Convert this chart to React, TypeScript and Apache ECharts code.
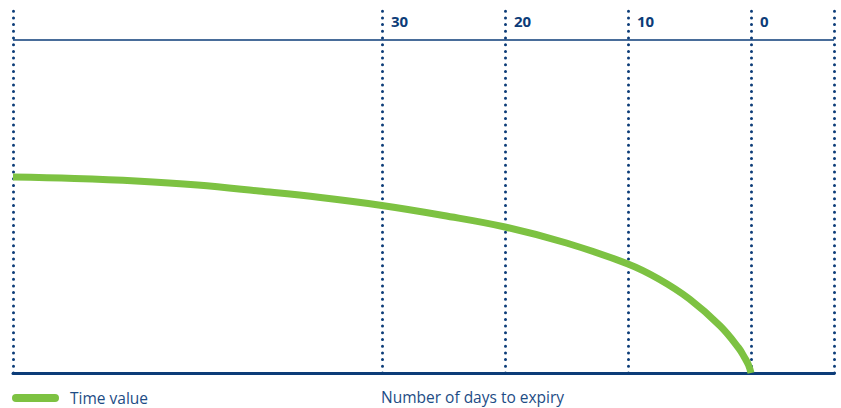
import React, { useEffect, useRef } from "react";
import * as echarts from "echarts";

const days = [60, 55, 50, 45, 40, 35, 30, 25, 20, 15, 10, 7.5, 5, 2.5, 1, 0.5, 0.2, 0];
const timeValue = [196, 194.5, 192, 188, 182, 175.5, 167.5, 157.5, 146, 130, 109, 94, 74, 47, 25, 15, 8, 0];
const gridLineDays = [60, 30, 20, 10, 0, -6.75];
const tickLabels = [30, 20, 10, 0];
const topLineValue = 333;
const seriesName = "Time value";
const axisTitle = "Number of days to expiry";

const BLUE = "#0c3c78";
const TEXT = "#1d4c85";
const GREEN = "#7dc242";
const FONT = "'Open Sans', 'Noto Sans', sans-serif";

export default function App() {
  const ref = useRef<HTMLDivElement>(null);
  useEffect(() => {
    if (!ref.current) return;
    const chart = echarts.init(ref.current, undefined, { renderer: "svg" });
    chart.setOption({
      animation: false,
      grid: { left: 13, right: 7, top: 10, bottom: 35 },
      title: {
        text: axisTitle,
        left: 381,
        top: 389,
        padding: 0,
        textStyle: { color: TEXT, fontSize: 15.5, fontWeight: "normal", fontFamily: FONT },
      },
      legend: {
        left: 12,
        top: 390,
        padding: 0,
        itemWidth: 47,
        itemHeight: 8,
        data: [
          {
            name: seriesName,
            icon: "path://M4,0 H43 A4,4 0 0 1 43,8 H4 A4,4 0 0 1 4,0 Z",
            itemStyle: { color: GREEN },
          },
        ],
        textStyle: { color: TEXT, fontSize: 15.5, fontFamily: FONT, padding: [0, 0, 0, 6] },
      },
      xAxis: [
        {
          type: "value",
          min: -6.75,
          max: 60,
          inverse: true,
          position: "bottom",
          axisLine: { show: true, onZero: false, lineStyle: { color: BLUE, width: 3 } },
          axisTick: { show: false },
          axisLabel: { show: false },
          splitLine: { show: false },
        },
        {
          type: "value",
          min: -6.75,
          max: 60,
          inverse: true,
          position: "top",
          axisLine: { show: false },
          axisTick: { show: false },
          splitLine: { show: false },
          axisLabel: {
            show: true,
            inside: true,
            customValues: tickLabels,
            align: "left",
            verticalAlign: "top",
            margin: 3,
            padding: [0, 0, 0, 9],
            color: BLUE,
            fontSize: 15,
            fontWeight: "bold",
            fontFamily: FONT,
          },
        },
      ],
      yAxis: {
        type: "value",
        min: 0,
        max: 363,
        show: false,
        splitLine: { show: false },
      },
      series: [
        {
          name: seriesName,
          type: "line",
          xAxisIndex: 0,
          data: days.map((d, i) => [d, timeValue[i]]),
          smooth: 0.4,
          showSymbol: false,
          lineStyle: { color: GREEN, width: 7 },
          itemStyle: { color: GREEN },
          z: 3,
          markLine: {
            silent: true,
            symbol: "none",
            label: { show: false },
            z: 2,
            data: [
              ...gridLineDays.map((d) => ({
                xAxis: d,
                lineStyle: { color: BLUE, width: 3, type: [0, 6.7], cap: "round" },
              })),
              { yAxis: topLineValue, lineStyle: { color: BLUE, width: 1.5, type: "solid" } },
            ],
          },
        },
      ],
    });
    return () => chart.dispose();
  }, []);
  return (
    <div
      ref={ref}
      style={{ width: 841, height: 408, position: "absolute", left: 0, top: 0 }}
    />
  );
}
